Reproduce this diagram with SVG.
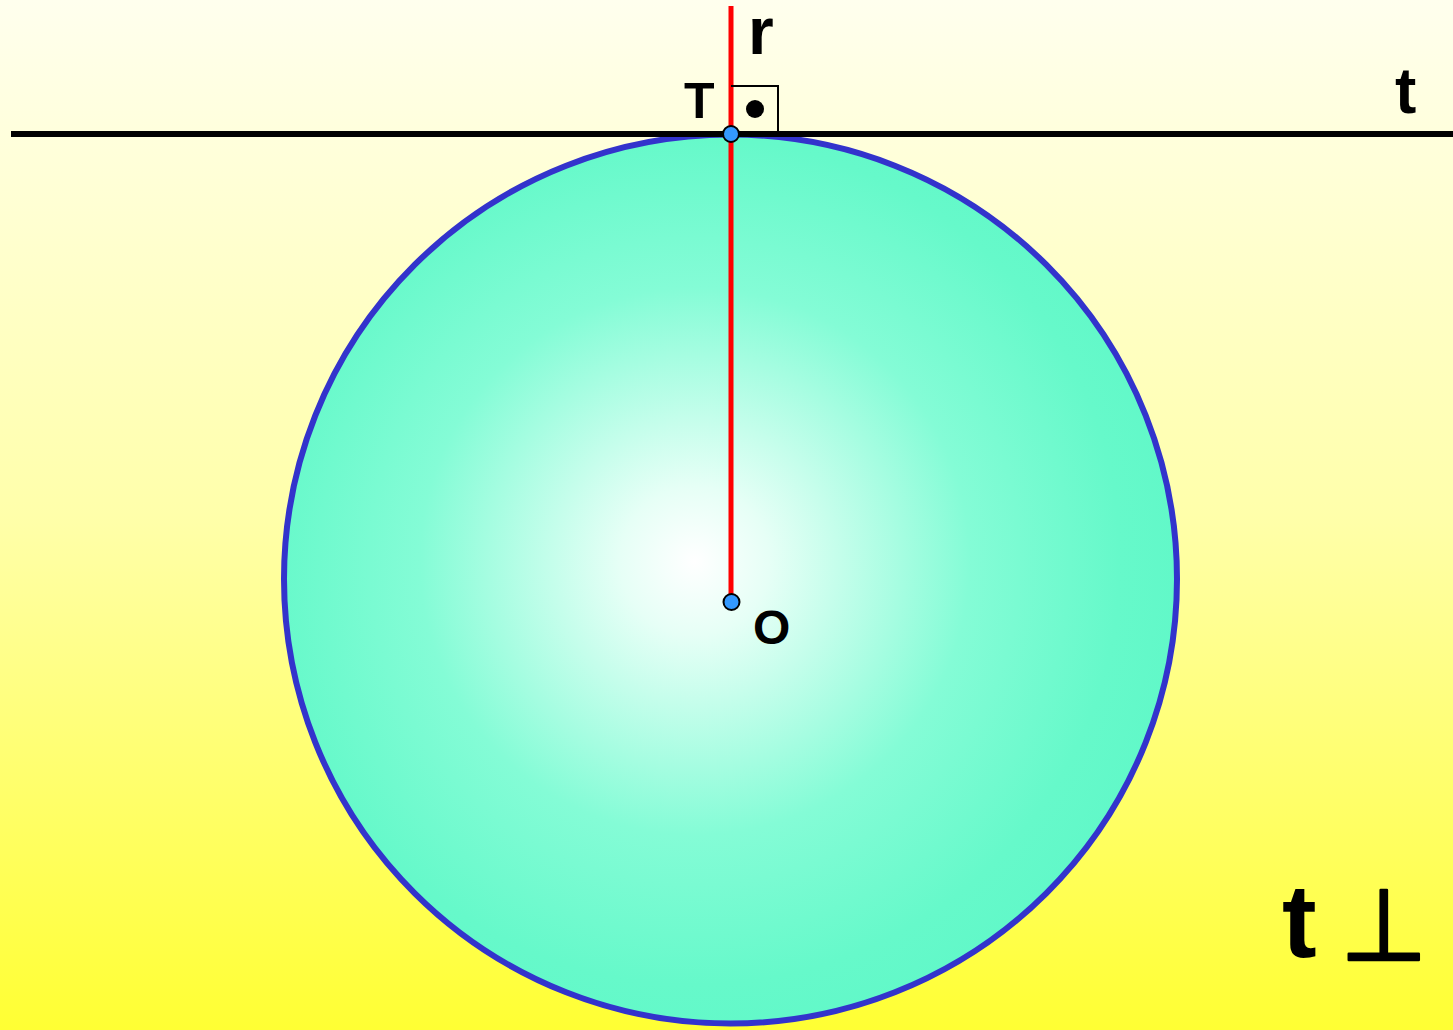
<svg xmlns="http://www.w3.org/2000/svg" width="1453" height="1030" viewBox="0 0 1453 1030">
<defs>
<linearGradient id="bg" x1="0" y1="0" x2="0" y2="1">
<stop offset="0" stop-color="#FFFFEE"/>
<stop offset="0.5" stop-color="#FFFFAA"/>
<stop offset="1" stop-color="#FFFF33"/>
</linearGradient>
<radialGradient id="disc" cx="0.46" cy="0.48" r="0.56">
<stop offset="0" stop-color="#FFFFFF"/>
<stop offset="0.15" stop-color="#E6FFF6"/>
<stop offset="0.55" stop-color="#84FCD6"/>
<stop offset="0.85" stop-color="#66F9CA"/>
<stop offset="1" stop-color="#60F8C8"/>
</radialGradient>
</defs>
<style>
.lbl{font-family:"Liberation Sans",Arial,sans-serif;font-weight:bold;fill:#000}
.pt{fill:#3399FF;stroke:#000;stroke-width:2}
</style>
<rect width="1453" height="1030" fill="url(#bg)"/>
<g id="circle">
<ellipse cx="730.5" cy="579" rx="446.5" ry="444.5" fill="url(#disc)" stroke="#3333CC" stroke-width="6"/>
</g>
<g id="connectors">
<line id="radius" x1="731" y1="6" x2="731" y2="602" stroke="#FF0000" stroke-width="5"/>
<line id="tangent" x1="11" y1="134" x2="1453" y2="134" stroke="#000" stroke-width="6"/>
<path id="right-angle" d="M731,86 H778 V134" fill="none" stroke="#000" stroke-width="2"/>
<circle cx="755" cy="109" r="9" fill="#000"/>
</g>
<g id="point-T">
<circle class="pt" cx="731" cy="134" r="8"/>
<text class="lbl" x="684" y="118" font-size="50">T</text>
</g>
<g id="point-O">
<circle class="pt" cx="731.5" cy="602" r="8"/>
<text class="lbl" x="753" y="644" font-size="48">O</text>
</g>
<g id="label-r">
<text class="lbl" x="748" y="54" font-size="66">r</text>
</g>
<g id="label-t">
<text class="lbl" x="1395" y="113" font-size="64">t</text>
</g>
<g id="formula">
<text class="lbl" x="1282" y="957" font-size="104">t</text>
<text x="1340" y="960" font-size="100" font-family="DejaVu Sans,sans-serif" fill="#000" stroke="#000" stroke-width="2.5" stroke-linejoin="round">⊥</text>
</g>
</svg>
